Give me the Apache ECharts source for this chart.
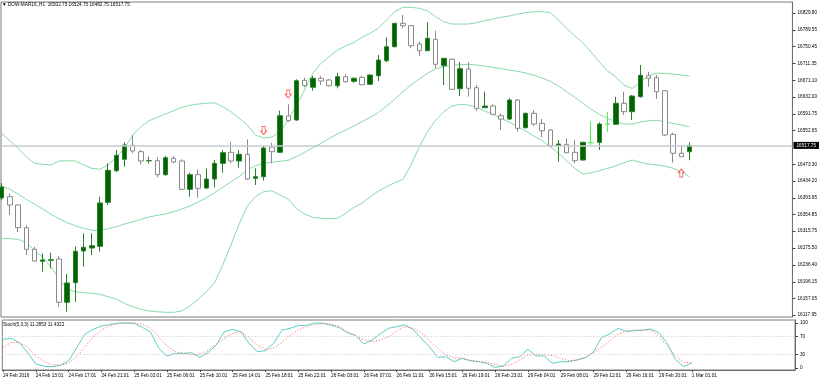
<!DOCTYPE html>
<html><head><meta charset="utf-8">
<script src="https://cdn.jsdelivr.net/npm/echarts@6/dist/echarts.min.js"></script>
<style>html,body{margin:0;padding:0;background:#fff;}#c{width:820px;height:382px;}</style>
</head><body><div id="c"></div>
<script>
// ---- data ----
const symbolName = 'DOW-MAR16.,H1';
const opens = [16393.8,16396.8,16377.3,16323.8,16272.8,16244.5,16246.9,16249.9,16147.9,16194.1,
16268.8,16275.9,16279.9,16383.6,16458.1,16485.0,16518.0,16502.9,16481.5,16481.7,
16448.7,16487.3,16481.0,16414.2,16448.7,16417.3,16438.5,16475.5,16501.4,16481.0,
16496.7,16440.1,16443.9,16513.9,16501.4,16587.0,16577.6,16671.1,16654.7,16675.9,
16671.9,16658.4,16679.6,16668.8,16678.2,16661.7,16682.0,16717.3,16750.3,16805.5,
16799.9,16756.7,16740.9,16767.8,16705.6,16720.7,16651.4,16697.8,16653.7,16606.6,
16610.6,16587.7,16579.9,16624.7,16559.4,16593.4,16569.8,16554.0,16517.0,16520.3,
16501.4,16483.3,16524.1,16525.0,16568.1,16567.5,16617.0,16597.2,16632.5,16682.0,
16677.3,16646.7,16543.9,16499.1,16502.75];
const highs = [16429.1,16404.8,16378.9,16330.1,16279.0,16263.4,16264.8,16257.0,16214.6,16279.0,
16310.5,16310.5,16396.8,16475.5,16506.9,16525.0,16542.2,16506.9,16491.1,16489.7,
16492.7,16492.7,16485.0,16453.4,16461.4,16463.7,16483.3,16506.9,16526.4,16506.9,
16532.1,16463.7,16516.3,16524.1,16599.5,16614.6,16673.5,16677.3,16681.3,16681.3,
16674.2,16689.0,16686.0,16678.2,16682.0,16685.3,16730.8,16772.5,16805.5,16825.1,
16801.5,16762.1,16807.9,16788.1,16723.0,16723.0,16714.3,16713.6,16660.1,16644.3,
16614.6,16593.4,16628.7,16626.4,16594.8,16601.1,16579.9,16555.6,16530.4,16534.4,
16530.4,16526.4,16573.6,16572.2,16597.2,16632.5,16644.3,16636.5,16707.2,16691.4,
16683.6,16648.3,16547.7,16518.7,16524.75];
const lows = [16389.0,16353.7,16313.6,16259.4,16243.6,16220.0,16228.0,16137.5,16125.8,16149.3,
16231.8,16259.4,16267.2,16377.3,16455.0,16467.5,16499.1,16473.2,16475.5,16442.5,
16446.3,16475.5,16412.6,16396.8,16394.4,16414.9,16418.9,16453.4,16475.5,16465.1,
16436.1,16424.4,16434.5,16475.5,16500.5,16573.6,16575.9,16654.7,16646.7,16660.1,
16657.0,16652.3,16665.5,16665.5,16659.3,16660.1,16669.5,16713.6,16748.9,16793.7,
16746.6,16728.4,16740.9,16699.4,16660.1,16648.3,16634.2,16632.5,16598.8,16606.6,
16589.4,16554.0,16577.6,16550.0,16558.0,16563.4,16536.8,16513.2,16479.3,16499.1,
16475.5,16481.7,16518.7,16506.9,16550.0,16565.8,16589.4,16577.6,16630.1,16656.1,
16627.1,16539.9,16477.0,16491.1,16482.75];
const closes = [16419.7,16377.3,16323.8,16272.8,16245.3,16247.6,16248.3,16147.9,16193.4,16268.1,
16277.5,16281.3,16382.0,16459.0,16494.4,16518.7,16504.5,16481.0,16482.0,16448.7,
16488.7,16478.6,16414.2,16448.7,16416.6,16438.5,16475.5,16500.5,16481.0,16496.7,
16438.5,16443.9,16511.6,16502.9,16587.7,16575.9,16670.2,16658.4,16675.9,16669.5,
16658.4,16679.6,16667.8,16675.9,16660.8,16683.6,16719.0,16750.3,16805.5,16799.9,
16752.7,16740.9,16770.1,16708.9,16723.0,16650.0,16698.5,16652.3,16605.2,16610.6,
16591.0,16579.9,16624.7,16558.0,16593.4,16568.1,16552.3,16517.0,16521.0,16500.5,
16481.7,16525.0,16524.1,16568.1,16568.1,16617.0,16597.2,16634.2,16683.0,16675.9,
16644.3,16542.2,16499.1,16491.1,16517.75];
const upperBand = [16546.2,16528.8,16510.9,16491.1,16475.5,16473.2,16471.5,16481.0,16481.7,16481.0,
16471.5,16463.7,16461.4,16471.5,16489.7,16510.9,16542.2,16561.8,16575.9,16583.9,
16591.7,16599.5,16607.5,16612.2,16615.3,16616.9,16618.3,16608.9,16597.1,16581.6,
16565.8,16542.2,16535.1,16537.5,16550.0,16577.6,16612.9,16648.3,16687.6,16711.2,
16726.8,16742.5,16752.0,16759.8,16772.5,16781.9,16793.7,16813.3,16832.8,16843.2,
16843.2,16840.8,16835.2,16821.0,16809.3,16803.8,16803.8,16803.8,16806.9,16811.6,
16815.6,16819.6,16822.7,16827.4,16830.5,16832.8,16832.8,16830.5,16813.3,16793.7,
16775.6,16759.1,16737.9,16714.3,16693.1,16679.0,16660.1,16651.8,16667.1,16681.3,
16688.3,16687.2,16686.0,16683.6,16681.3];
const middleBand = [16422.0,16414.2,16403.1,16390.6,16379.6,16367.8,16356.0,16344.9,16335.5,16328.4,
16322.3,16317.6,16316.6,16321.4,16326.1,16332.4,16337.9,16343.5,16348.9,16352.9,
16356.0,16361.4,16367.8,16374.9,16384.3,16394.4,16406.2,16418.9,16432.1,16444.4,
16459.7,16469.8,16475.5,16477.9,16480.2,16482.6,16491.1,16501.4,16512.3,16522.6,
16534.4,16544.6,16554.0,16563.4,16573.6,16583.9,16594.8,16610.6,16626.3,16644.3,
16660.1,16674.2,16687.6,16697.8,16703.2,16706.5,16707.9,16708.8,16707.2,16704.8,
16701.8,16698.5,16695.4,16692.3,16688.3,16682.9,16676.6,16668.8,16657.7,16644.3,
16631.1,16616.9,16602.8,16591.0,16581.6,16573.6,16568.1,16568.1,16572.8,16575.9,
16576.9,16573.6,16569.8,16565.8,16561.8];
const lowerBand = [16298.7,16297.8,16296.4,16288.4,16271.2,16254.0,16231.8,16204.4,16178.5,16172.9,
16170.5,16169.1,16166.7,16161.1,16155.7,16145.5,16137.5,16131.4,16127.4,16125.7,
16124.3,16124.3,16127.4,16139.2,16155.0,16172.9,16194.1,16235.8,16282.9,16332.4,
16374.9,16396.8,16408.6,16410.9,16400.8,16390.7,16369.4,16356.0,16348.2,16345.9,
16344.9,16345.9,16357.7,16371.8,16381.2,16396.8,16410.2,16420.3,16429.8,16437.8,
16471.5,16514.6,16550.0,16577.6,16597.1,16610.6,16614.6,16612.9,16607.5,16598.8,
16591.0,16581.6,16572.8,16561.8,16551.6,16539.8,16528.8,16514.6,16499.1,16481.6,
16463.7,16450.3,16453.3,16458.1,16463.7,16469.1,16476.9,16483.3,16477.9,16473.9,
16471.5,16469.1,16463.7,16455.7,16443.9];
const stochK = [63.7,66,56.3,34,8.9,3.7,3,5.9,15.6,45.9,
75.6,85.9,93.3,96.3,100,100,99.3,90.4,79.3,43.7,
26.7,32.6,32.6,34,23.7,34,51.1,80.7,85.9,80.7,
54.8,36.3,38.5,55,84,88.1,94,94.8,100,99.3,
95.6,89.6,78.5,72.6,53.3,62.2,75.6,88.1,91.8,95.6,
85.9,66,47.4,23.7,25.2,14,21.5,16.3,14,10.4,
1.5,4.4,21.5,25.2,41.5,26.7,27,10.4,14,14,
17.8,22.9,34.8,68.1,75.6,88.1,81.5,83,83.7,86.7,
78.5,54.8,19,3,11.2853];
const stochD = [45.9,57,56.3,45.9,26.7,14,6.7,6.7,10.4,25.2,
47.4,69.6,84.4,94,98.5,100,100,97,88.1,69,
48.9,36.3,32.6,29.6,30.4,38.5,52.6,66,77,80.7,
68.1,51.1,41.5,44,57,72.6,84.4,91.8,96.3,99.3,
97,92.6,80.7,71.1,62.9,58.5,62.2,69.6,82.2,91.8,
88.1,78.5,60.7,43.7,28.9,22.9,21.5,16.3,14.8,12.6,
8.1,4.4,8.1,17.8,28.9,31.1,30,27.4,21.5,16.3,
17.8,23.7,34.8,45.9,60.7,75.6,80.7,84.4,84.4,83.7,
71.1,48.9,26.7,12.6,11.4322];
const stochLevels = [30, 70];
const arrowDownBars = [32, 35];
const arrowDownPrices = [16552.8, 16638.9];
const arrowUpBars = [83];
const arrowUpPrices = [16452.7];
const priceTicks = [16829.80,16789.55,16750.45,16711.35,16671.10,16632.00,16591.75,16552.65,16473.30,
16434.20,16393.95,16354.85,16315.75,16275.50,16236.40,16196.15,16157.05,16117.95];
const stochTicks = [0, 30, 70, 100];
const timeTickBars = [0,4,8,12,16,20,24,28,32,36,40,44,48,52,56,60,64,68,72,76,80,84];
const timeLabels = ['24 Feb 2016','24 Feb 13:01','24 Feb 17:01','24 Feb 21:01','25 Feb 02:01','25 Feb 06:01',
'25 Feb 10:01','25 Feb 14:01','25 Feb 18:01','25 Feb 22:01','26 Feb 03:01','26 Feb 07:01','26 Feb 11:01',
'26 Feb 15:01','26 Feb 19:01','26 Feb 23:01','29 Feb 04:01','29 Feb 08:01','29 Feb 12:01','29 Feb 16:01',
'29 Feb 20:01','1 Mar 01:01'];

// ---- build ----
const N = opens.length;
const last = N - 1;
const candleData = opens.map((o, i) => [i, o, closes[i], lows[i], highs[i]]);
const pairs = arr => arr.map((v, i) => [i, v]);
const font = 'Liberation Sans';
const FS = 4.7;
const xMin = -0.085, xMax = 96.58;
const labelMap = {};
timeTickBars.forEach((b, k) => labelMap[b] = timeLabels[k]);

const chart = echarts.init(document.getElementById('c'), null, {renderer: 'canvas'});
chart.setOption({
  animation: false,
  backgroundColor: '#ffffff',
  title: [
    {text: '\u25BC ' + symbolName + '  ' + [opens[last], highs[last], lows[last], closes[last]].map(v => v.toFixed(2)).join(' '),
     left: 2, top: 2, padding: 0,
     textStyle: {fontSize: FS, fontWeight: 'normal', color: '#000', fontFamily: font}},
    {text: 'Stoch(5,3,3) ' + stochK[last].toFixed(4) + ' ' + stochD[last].toFixed(4),
     left: 3, top: 322, padding: 0,
     textStyle: {fontSize: FS, fontWeight: 'normal', color: '#000', fontFamily: font}}
  ],
  grid: [
    {left: 1, top: 2, width: 794, height: 315, show: true, borderColor: '#7a7a7a', borderWidth: 1, backgroundColor: 'transparent'},
    {left: 1, top: 320, width: 794, height: 50, show: true, borderColor: '#7a7a7a', borderWidth: 1, backgroundColor: 'transparent'}
  ],
  xAxis: [
    {gridIndex: 0, type: 'value', min: xMin, max: xMax, show: false, axisLine: {onZero: false}},
    {gridIndex: 1, type: 'value', min: xMin, max: xMax, position: 'bottom',
     axisLine: {show: true, onZero: false, lineStyle: {color: '#6e6e6e'}},
     axisTick: {show: true, customValues: timeTickBars, length: 2, lineStyle: {color: '#444'}},
     axisLabel: {customValues: timeTickBars, formatter: v => labelMap[Math.round(v)] || '', align: 'left',
                 fontSize: FS, color: '#000', margin: 3, fontFamily: font},
     splitLine: {show: false}}
  ],
  yAxis: [
    {gridIndex: 0, type: 'value', position: 'right', min: 16113.27, max: 16855.73,
     axisLine: {show: true, onZero: false, lineStyle: {color: '#6e6e6e'}},
     axisTick: {show: true, customValues: priceTicks, length: 3, lineStyle: {color: '#444'}},
     axisLabel: {customValues: priceTicks, formatter: v => v.toFixed(2), fontSize: FS, color: '#000', margin: 5, fontFamily: font},
     splitLine: {show: false}},
    {gridIndex: 1, type: 'value', position: 'right', min: -4.44, max: 106.67,
     axisLine: {show: true, onZero: false, lineStyle: {color: '#6e6e6e'}},
     axisTick: {show: true, customValues: stochTicks, length: 3, lineStyle: {color: '#444'}},
     axisLabel: {customValues: stochTicks, formatter: v => String(v), fontSize: FS, color: '#000', margin: 5, fontFamily: font},
     splitLine: {show: false}}
  ],
  series: [
    {type: 'line', name: 'upper', xAxisIndex: 0, yAxisIndex: 0, data: pairs(upperBand), symbol: 'none',
     lineStyle: {color: '#8ad9aa', width: 1}, silent: true, z: 2},
    {type: 'line', name: 'middle', xAxisIndex: 0, yAxisIndex: 0, data: pairs(middleBand), symbol: 'none',
     lineStyle: {color: '#8ad9aa', width: 1}, silent: true, z: 2},
    {type: 'line', name: 'lower', xAxisIndex: 0, yAxisIndex: 0, data: pairs(lowerBand), symbol: 'none',
     lineStyle: {color: '#8ad9aa', width: 1}, silent: true, z: 2},
    {type: 'candlestick', name: 'price', xAxisIndex: 0, yAxisIndex: 0, data: candleData,
     encode: {x: 0, y: [1, 2, 3, 4]}, barWidth: 5, clip: true, z: 3,
     itemStyle: {color: '#006400', color0: '#ffffff', borderColor: '#2a7f2a', borderColor0: '#8a8a8a',
                 borderColorDoji: '#55ee55', borderWidth: 1},
     markLine: {silent: true, symbol: ['none', 'none'], animation: false,
       data: [{yAxis: closes[last]}],
       lineStyle: {color: '#c6cbd4', width: 1.5, type: 'solid'},
       label: {show: true, position: 'end', formatter: closes[last].toFixed(2), backgroundColor: '#000', color: '#fff',
               fontSize: FS, fontFamily: font, padding: [1, 3, 1, 3], distance: 1}}},
    {type: 'scatter', name: 'arrowDown', xAxisIndex: 0, yAxisIndex: 0,
     data: arrowDownBars.map((b, k) => [b, arrowDownPrices[k]]),
     symbol: 'path://M2,0 L6,0 L6,5 L8,5 L4,9 L0,5 L2,5 Z', symbolSize: [6, 8], z: 4,
     itemStyle: {color: '#ffffff', borderColor: '#ff3b3b', borderWidth: 1}},
    {type: 'scatter', name: 'arrowUp', xAxisIndex: 0, yAxisIndex: 0,
     data: arrowUpBars.map((b, k) => [b, arrowUpPrices[k]]),
     symbol: 'path://M4,0 L8,4 L6,4 L6,9 L2,9 L2,4 L0,4 Z', symbolSize: [6, 8], z: 4,
     itemStyle: {color: '#ffffff', borderColor: '#ff3b3b', borderWidth: 1}},
    {type: 'line', name: 'K', xAxisIndex: 1, yAxisIndex: 1, data: pairs(stochK), symbol: 'none',
     lineStyle: {color: '#5ccfc6', width: 1}, z: 3,
     markLine: {silent: true, symbol: ['none', 'none'], label: {show: false},
       data: stochLevels.map(v => ({yAxis: v})),
       lineStyle: {color: '#c8c8c8', width: 1, type: [1, 2]}}},
    {type: 'line', name: 'D', xAxisIndex: 1, yAxisIndex: 1, data: pairs(stochD), symbol: 'none',
     lineStyle: {color: '#ff5a5a', width: 1, type: [1, 2]}, z: 3}
  ]
});
</script>
</body></html>
